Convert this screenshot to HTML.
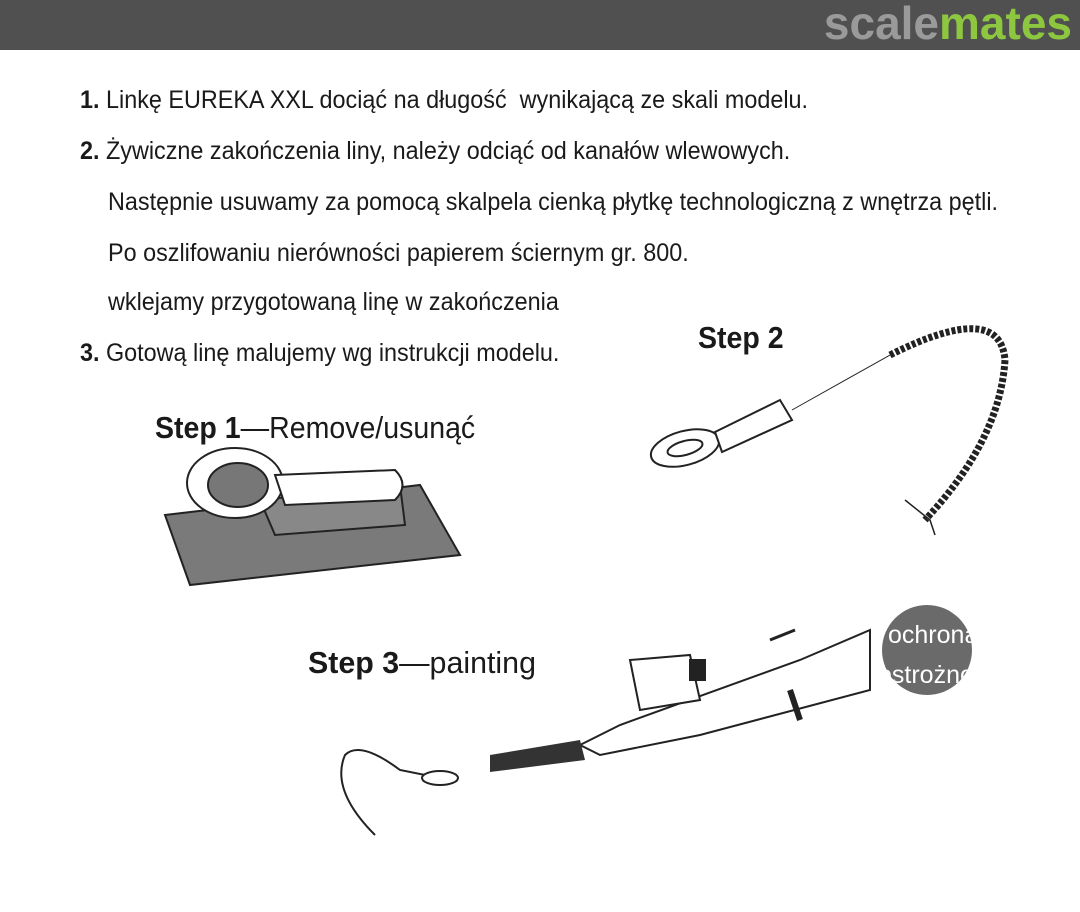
<!DOCTYPE html>
<html><head><meta charset="utf-8"><style>
body{margin:0;width:1080px;height:912px;background:#fff;overflow:hidden;position:relative;font-family:"Liberation Sans Narrow","Liberation Sans",sans-serif;color:#1a1a1a}
.hdr{position:absolute;left:0;top:0;width:1080px;height:50px;background:#505050}
.logo{position:absolute;right:8px;top:-4px;font:bold 46px "Liberation Sans",sans-serif;letter-spacing:0px}
.t{position:absolute;font-size:25px;white-space:nowrap;transform-origin:left top;transform:scaleX(0.935)}
.t b{font-weight:bold}
.s{position:absolute;font-size:31px;white-space:nowrap;transform-origin:left top;transform:scaleX(0.92)}
</style></head><body>
<div class="hdr"><div class="logo"><span style="color:#9a9a9a">scale</span><span style="color:#8dc63f">mates</span></div></div>
<div class="t" style="left:80px;top:86px"><b>1.</b> Linkę EUREKA XXL dociąć na długość&nbsp; wynikającą ze skali modelu.</div>
<div class="t" style="left:80px;top:137px"><b>2.</b> Żywiczne zakończenia liny, należy odciąć od kanałów wlewowych.</div>
<div class="t" style="left:108px;top:188px">Następnie usuwamy za pomocą skalpela cienką płytkę technologiczną z wnętrza pętli.</div>
<div class="t" style="left:108px;top:239px">Po oszlifowaniu nierówności papierem ściernym gr. 800.</div>
<div class="t" style="left:108px;top:288px">wklejamy przygotowaną linę w zakończenia</div>
<div class="t" style="left:80px;top:339px"><b>3.</b> Gotową linę malujemy wg instrukcji modelu.</div>
<div class="s" style="left:698px;top:320px"><b>Step 2</b></div>
<div class="s" style="left:155px;top:410px"><b>Step 1</b>—Remove/usunąć</div>
<div class="s" style="left:308px;top:645px;transform:scaleX(0.98)"><b>Step 3</b>—painting</div>
<svg width="1080" height="912" style="position:absolute;left:0;top:0">
<defs><clipPath id="c"><circle cx="927" cy="650" r="45"/></clipPath></defs>
<g stroke="#222" stroke-width="2" fill="none">
<polygon points="165,515 420,485 460,555 190,585" fill="#7a7a7a"/>
<polygon points="260,500 400,485 405,525 275,535" fill="#888"/>
<ellipse cx="235" cy="483" rx="48" ry="35" fill="#fff"/>
<ellipse cx="238" cy="485" rx="30" ry="22" fill="#777"/>
<path d="M275,475 L395,470 Q410,485 395,500 L285,505 Z" fill="#fff"/>
<ellipse cx="685" cy="448" rx="35" ry="17" transform="rotate(-15 685 448)" fill="#fff"/>
<ellipse cx="685" cy="448" rx="18" ry="7" transform="rotate(-15 685 448)"/>
<path d="M715,432 L780,400 L792,420 L722,452 Z" fill="#fff"/>
<path d="M792,410 L890,355" stroke-width="1"/>
<path d="M890,355 Q1000,300 1005,360 Q1000,440 925,520" stroke-width="7" stroke-dasharray="4 2"/>
<path d="M905,500 L930,520 L935,535" stroke-width="1.5"/>
<path d="M580,745 L620,725 L800,660 L870,630 L870,690 L700,735 L600,755 Z" fill="#fff"/>
<path d="M630,660 L690,655 L700,700 L640,710 Z" fill="#fff"/>
<path d="M690,660 L705,660 L705,680 L690,680 Z" fill="#222"/>
<path d="M790,690 L800,720" stroke-width="6"/>
<path d="M770,640 L795,630" stroke-width="3"/>
<path d="M490,755 L580,740 L585,760 L490,772 Z" fill="#333" stroke="none"/>
<path d="M375,835 Q330,790 345,755 Q360,740 400,770 L450,780" stroke-width="2"/>
<ellipse cx="440" cy="778" rx="18" ry="7" fill="#fff"/>
</g>
<circle cx="927" cy="650" r="45" fill="#6a6a6a"/>
<g clip-path="url(#c)" font-family="Liberation Sans Narrow,Liberation Sans,sans-serif" font-size="25" fill="#fff">
<text x="888" y="643">ochrona</text>
<text x="878" y="683">ostrożno</text>
</g>
</svg>
</body></html>
